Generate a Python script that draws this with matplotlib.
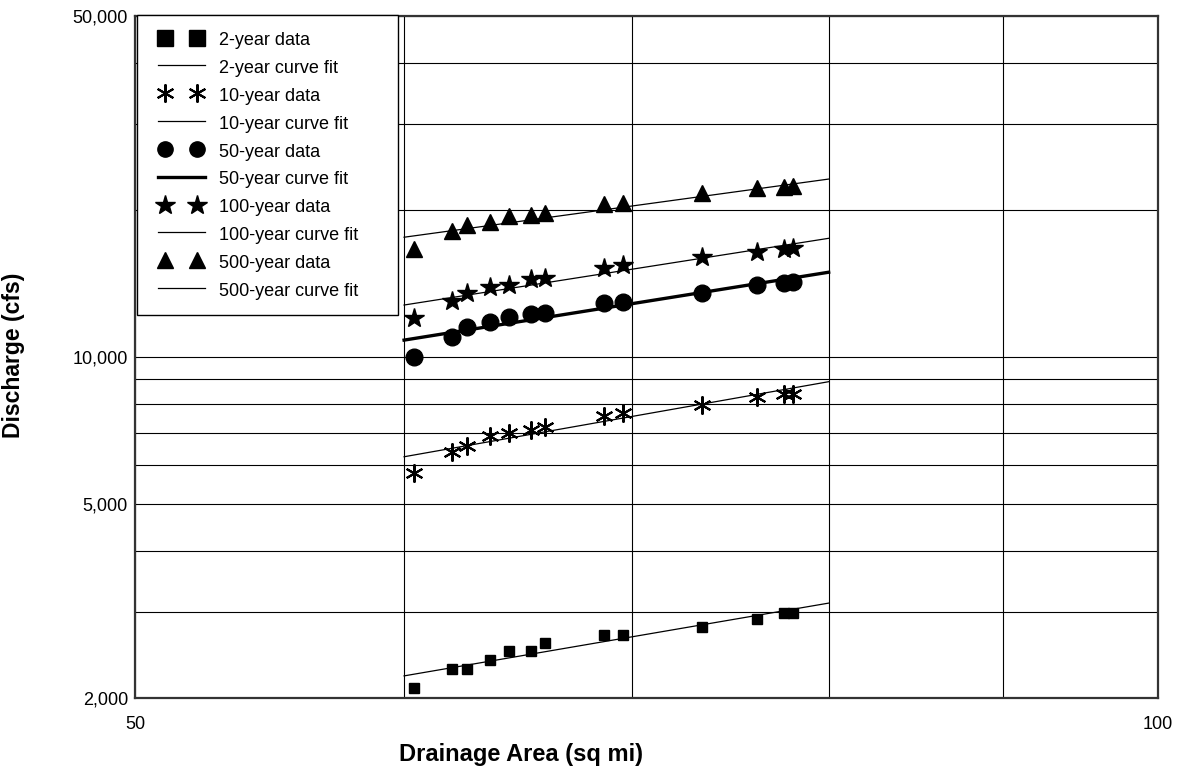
import numpy as np
import matplotlib
matplotlib.use("Agg")
import matplotlib.pyplot as plt
from matplotlib.ticker import FixedLocator, FuncFormatter, NullFormatter
from matplotlib.legend_handler import HandlerLine2D

plt.rcParams['font.family'] = ['Liberation Sans', 'DejaVu Sans']

# Drainage area (sq mi) for each data point
area = [60.4, 62.0, 62.6, 63.6, 64.4, 65.4, 66.0, 68.7, 69.6, 73.4, 76.2, 77.6, 78.1]

# Peak discharge (cfs) per return period
q2 = [2094, 2290, 2290, 2393, 2497, 2497, 2596, 2692, 2692, 2792, 2899, 2991, 2991]
q10 = [5775, 6380, 6580, 6890, 6980, 7090, 7180, 7580, 7690, 7970, 8290, 8400, 8400]
q50 = [10010, 11010, 11540, 11810, 12090, 12230, 12330, 12920, 12980, 13510, 14050, 14160, 14230]
q100 = [12040, 13050, 13550, 13930, 14050, 14450, 14540, 15240, 15440, 16060, 16440, 16630, 16710]
q500 = [16650, 18150, 18640, 18940, 19450, 19540, 19760, 20560, 20660, 21660, 22180, 22340, 22420]

# Power-law curve fits, end points
fit_area = [60, 80]
fit2 = [2220, 3130]
fit10 = [6245, 8900]
fit50 = [10830, 14920]
fit100 = [12780, 17510]
fit500 = [17600, 23160]

fig = plt.figure(figsize=(11.85, 7.70), dpi=100)
ax = fig.add_axes([135 / 1185, 72 / 770, 1023 / 1185, 682 / 770])

ast = (6, 2, 0)
series = [
    ("2-year", q2, fit2, dict(marker="s", ms=7.5), 0.9),
    ("10-year", q10, fit10, dict(marker=ast, ms=13, mew=1.5), 0.9),
    ("50-year", q50, fit50, dict(marker="o", ms=12), 2.4),
    ("100-year", q100, fit100, dict(marker="*", ms=15), 0.9),
    ("500-year", q500, fit500, dict(marker="^", ms=11), 0.9),
]

data_handler = HandlerLine2D(marker_pad=0.72)
hmap = {}
for name, q, fit, mk, lw in series:
    pts, = ax.plot(area, q, linestyle="none", color="black", mec="black",
                   label=f"{name} data", zorder=3, **mk)
    ax.plot(fit_area, fit, color="black", lw=lw, label=f"{name} curve fit", zorder=2)
    hmap[pts] = data_handler

ax.set_xscale("log")
ax.set_yscale("log")
ax.set_xlim(50, 100)
ax.set_ylim(2000, 50000)

ax.xaxis.set_major_locator(FixedLocator([50, 100]))
ax.xaxis.set_minor_locator(FixedLocator([60, 70, 80, 90]))
ax.yaxis.set_major_locator(FixedLocator([2000, 5000, 10000, 50000]))
ax.yaxis.set_minor_locator(FixedLocator([3000, 4000, 6000, 7000, 8000, 9000,
                                         20000, 30000, 40000]))
ax.xaxis.set_major_formatter(FuncFormatter(lambda v, p: f"{v:,.0f}"))
ax.yaxis.set_major_formatter(FuncFormatter(lambda v, p: f"{v:,.0f}"))
ax.xaxis.set_minor_formatter(NullFormatter())
ax.yaxis.set_minor_formatter(NullFormatter())
ax.tick_params(which="both", length=0, labelsize=13)
ax.tick_params(axis="y", pad=5)
ax.tick_params(axis="x", pad=13)

ax.grid(True, which="both", color="black", lw=0.8)
ax.set_axisbelow(True)
for s in ax.spines.values():
    s.set_color("#333333")
    s.set_linewidth(1.6)

ax.set_xlabel("Drainage Area (sq mi)", fontsize=17, fontweight="bold")
ax.set_ylabel("Discharge (cfs)", fontsize=16.5, fontweight="bold")
ax.xaxis.set_label_coords(0.377, -0.066)
ax.yaxis.set_label_coords(-0.108, 0.503)

leg = ax.legend(loc="upper left", bbox_to_anchor=(0.002, 0.0, 0.255, 1.002),
                mode="expand", numpoints=2,
                fontsize=13, frameon=True, fancybox=False, framealpha=1,
                edgecolor="black", borderaxespad=0, handlelength=3.2,
                handleheight=1.2, labelspacing=0.47, borderpad=0.85,
                handletextpad=0.5, handler_map=hmap)
leg.get_frame().set_linewidth(1.0)
for h in leg.legend_handles:
    if h.get_marker() in ("s", "o"):
        h.set_markersize(11)

fig.savefig("out.png", dpi=100)
